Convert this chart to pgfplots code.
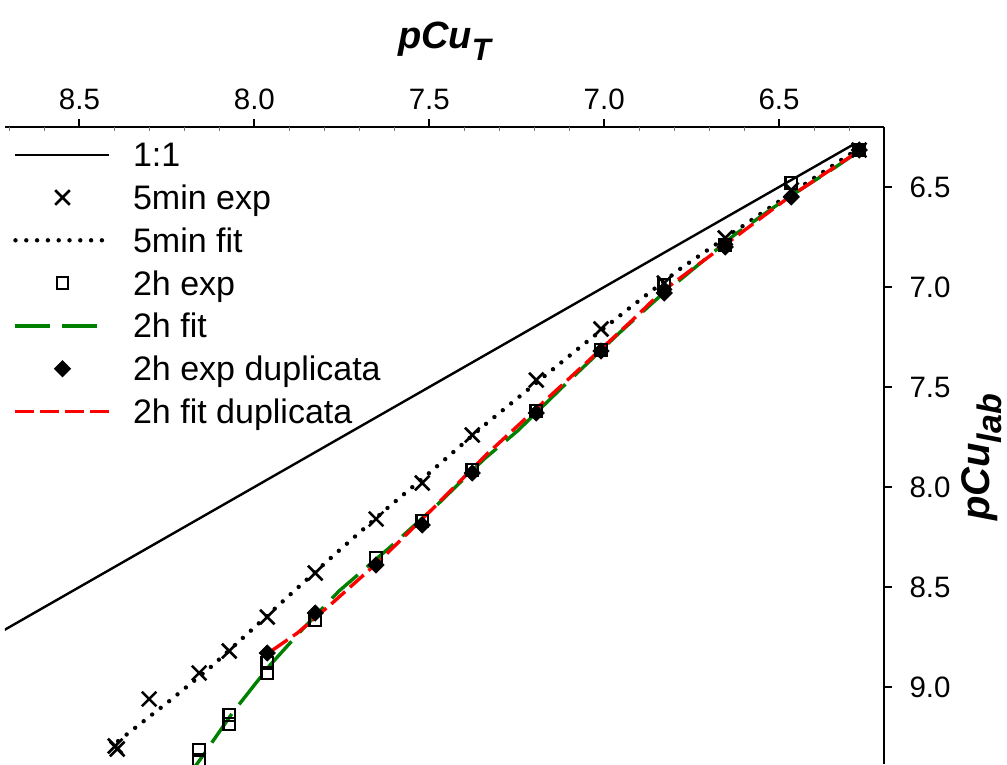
\documentclass[border=0pt]{standalone}
\usepackage{pgfplots}
\pgfplotsset{compat=1.18}
\usepackage{fontspec}
\setmainfont{Liberation Sans}
\definecolor{fitgreen}{RGB}{0,128,0}
\newcommand{\LE}[1]{\raisebox{0pt}[24pt][0pt]{#1}}
\begin{document}
\begin{tikzpicture}
\begin{axis}[
  name=ax,
  scale only axis,
  width=879pt, height=637pt,
  xmin=6.2, xmax=8.713, ymin=6.2, ymax=9.385,
  x dir=reverse, y dir=reverse,
  axis x line=top, axis y line=right,
  x axis line style={-, line width=2pt},
  y axis line style={-, line width=2pt},
  xtick={6.5,7,7.5,8,8.5},
  ytick={6.5,7,7.5,8,8.5,9},
  extra x ticks={6.3,6.4,6.6,6.7,6.8,6.9,7.1,7.2,7.3,7.4,7.6,7.7,7.8,7.9,8.1,8.2,8.3,8.4,8.6,8.7},
  extra x tick labels={},
  extra x tick style={tick align=inside, major tick length=3.5pt, major tick style={line width=0.8pt, black!55}},
  tick align=outside,
  major tick length=8pt,
  major tick style={black, line width=2pt},
  ticklabel style={font=\fontsize{29.5}{34}\selectfont},
  xticklabel style={yshift=6pt},
  yticklabel style={xshift=14pt},
  /pgf/number format/.cd, fixed, fixed zerofill, precision=1, assume math mode=true,
  /pgfplots/.cd,
  xlabel={\fontsize{38}{44}\selectfont\bfseries\itshape pCu\raisebox{-0.32em}{\fontsize{31}{36}\selectfont T}},
  xlabel style={at={(axis description cs:0.5,1)}, anchor=center, yshift=86pt},
  ylabel={\fontsize{40}{46}\selectfont\bfseries\itshape pCu\raisebox{-0.3em}{\fontsize{34}{40}\selectfont lab}},
  ylabel style={at={(axis description cs:1,0.5)}, anchor=center, xshift=-12pt, yshift=-98pt},
  legend style={draw=none, fill=none, inner sep=0pt, outer sep=0pt,
    at={(axis description cs:0,1)}, anchor=north west, xshift=8.3pt, yshift=-6.3pt,
    font=\fontsize{34}{40}\selectfont, row sep=0pt, column sep=21.4pt,
    nodes={inner xsep=0pt, inner ysep=9.4pt, text depth=0pt}},
  legend cell align=left,
  legend image code/.code={\draw[mark repeat=2, mark phase=2, #1] plot coordinates {(0pt,0pt) (47pt,0pt) (94pt,0pt)};},
]
% 1:1
\addplot[black, line width=2.4pt] coordinates {(6.29,6.29) (8.8,8.8)};
\addlegendentry{\LE{1:1}}
% 5min exp
\addplot[only marks, mark=x, mark size=10.3pt, line width=2.6pt, black] coordinates {
(6.271,6.315) (6.465,6.515) (6.654,6.755) (6.828,6.98) (7.009,7.21) (7.194,7.465)
(7.377,7.74) (7.520,7.98) (7.652,8.16) (7.826,8.43) (7.963,8.65) (8.072,8.82)
(8.158,8.93) (8.301,9.06) (8.398,9.295) (8.392,9.31)};
\addlegendentry{\LE{5min exp}}
% 5min fit
\addplot[black, line width=4.4pt, line cap=round, dash pattern=on 0pt off 10.8pt] coordinates {
(6.271,6.305) (6.509,6.582) (6.628,6.724) (6.781,6.907) (6.929,7.107) (7.079,7.315)
(7.229,7.529) (7.348,7.699) (7.498,7.927) (7.619,8.104) (7.769,8.335) (7.889,8.524)
(8.010,8.718) (8.129,8.907) (8.248,9.077) (8.367,9.24) (8.398,9.282)};
\addlegendentry{\LE{5min fit}}
% 2h exp
\addplot[only marks, mark=square, mark size=5.8pt, line width=2.3pt, black] coordinates {
(6.271,6.315) (6.465,6.48) (6.654,6.79) (6.828,6.99) (7.009,7.315) (7.194,7.62)
(7.377,7.915) (7.520,8.17) (7.652,8.355) (7.826,8.665) (7.963,8.88) (7.963,8.93)
(8.072,9.14) (8.072,9.185) (8.158,9.315) (8.158,9.365)};
\addlegendentry{\LE{2h exp}}
% 2h fit
\addplot[fitgreen, line width=3.4pt, dash pattern=on 35pt off 12pt] coordinates {
(6.271,6.32) (6.338,6.40) (6.485,6.565) (6.628,6.74) (6.766,6.94) (6.843,7.05)
(6.957,7.23) (7.119,7.50) (7.248,7.72) (7.343,7.86) (7.472,8.08) (7.605,8.29)
(7.758,8.52) (7.867,8.72) (7.955,8.89) (8.063,9.13) (8.156,9.365) (8.20,9.47)};
\addlegendentry{\LE{2h fit}}
% 2h exp duplicata
\addplot[only marks, mark=square*, mark size=5.6pt, mark options={rotate=45}, line width=1pt, black, fill=black] coordinates {
(6.271,6.315) (6.465,6.55) (6.654,6.80) (6.828,7.03) (7.009,7.32) (7.194,7.63)
(7.377,7.93) (7.520,8.19) (7.652,8.39) (7.826,8.63) (7.963,8.83)};
\addlegendentry{\LE{2h exp duplicata}}
% 2h fit duplicata
\addplot[red, line width=3.4pt, dash pattern=on 18.5pt off 6.5pt] coordinates {
(6.280,6.33) (6.471,6.55) (6.671,6.81) (6.833,7.02) (6.919,7.165) (7.052,7.38)
(7.195,7.61) (7.338,7.84) (7.491,8.11) (7.643,8.37) (7.777,8.58) (7.877,8.73) (7.960,8.83)};
\addlegendentry{\LE{2h fit duplicata}}
\end{axis}
\pgfresetboundingbox
\path[use as bounding box] ([shift={(-884pt,127pt)}]ax.north east) rectangle ([shift={(123pt,-637pt)}]ax.north east);
\end{tikzpicture}
\end{document}
